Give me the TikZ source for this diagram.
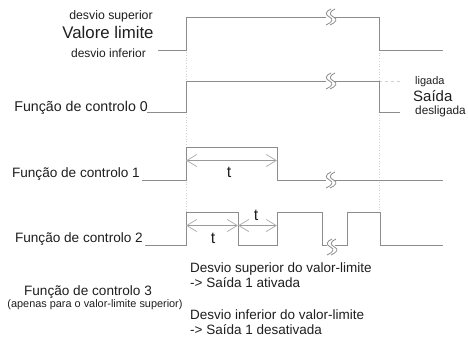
\documentclass[tikz,border=0pt]{standalone}
\usepackage{fontspec}
\setmainfont{Liberation Sans}
\usetikzlibrary{arrows.meta}
\definecolor{sigc}{HTML}{8C8C8C}
\definecolor{guidec}{HTML}{D0D0D0}
\definecolor{dimc}{HTML}{9A9A9A}
\definecolor{headc}{HTML}{B0B0B0}
\definecolor{txtc}{HTML}{1E1E1E}
\begin{document}
\begin{tikzpicture}[x=1pt,y=-1pt,
  sig/.style={draw=sigc, line width=0.95pt},
  guide/.style={draw=guidec, line width=0.7pt, dotted},
  faint/.style={draw=guidec, line width=0.7pt, dashed},
  dimline/.style={draw=dimc, line width=0.8pt,
     {Straight Barb[length=10pt,width=12pt,color=headc]}-{Straight Barb[length=10pt,width=12pt,color=headc]}},
  lbl/.style={inner sep=0pt, text=txtc},
  fs/.style={font=\fontsize{#1}{#1}\selectfont},
  brk/.pic={
    \fill[white] (-4,-6) rectangle (4,6);
    \draw[draw=sigc, line width=0.8pt] (1,-8) .. controls (-5,-5.5) and (-5,-2) .. (-0.5,0) .. controls (4,2) and (2,5.5) .. (-4,8);
    \draw[draw=sigc, line width=0.8pt] (5,-8) .. controls (-1,-5.5) and (-1,-2) .. (3.5,0) .. controls (8,2) and (6,5.5) .. (0,8);
  }]
\useasboundingbox (0,0) rectangle (468,340);

% guide lines
\draw[guide] (186,17) -- (186,245);
\draw[guide] (379,50) -- (379,211);
\draw[faint] (379,81) -- (401,81);

% labels left
\node[lbl, fs=12.3, anchor=base] (dsup) at (111,19) {desvio superior};
\node[lbl, fs=16.8, anchor=base] (vlim) at (108,38.5) {Valore limite};
\node[lbl, fs=12, anchor=base] (dinf) at (108.5,57) {desvio inferior};
\node[lbl, fs=14.2, anchor=base east] (f0) at (148,111) {Função de controlo 0};
\node[lbl, fs=13.6, anchor=base east] (f1) at (140,177) {Função de controlo 1};
\node[lbl, fs=13.6, anchor=base east] (f2) at (143,242) {Função de controlo 2};
\node[lbl, fs=13.6, anchor=base] (f3) at (88,295) {Função de controlo 3};
\node[lbl, fs=10.9, anchor=base] (f3b) at (95,307) {(apenas para o valor-limite superior)};

% labels right
\node[lbl, fs=11, anchor=base west] (lig) at (415,84) {ligada};
\node[lbl, fs=15, anchor=base west] (sai) at (413,101) {Saída};
\node[lbl, fs=11.8, anchor=base west] (desl) at (415,114) {desligada};

% bottom text
\node[lbl, fs=13.5, anchor=base west] (t1) at (190,272) {Desvio superior do valor-limite};
\node[lbl, fs=13.5, anchor=base west] (t2) at (190,287) {-> Saída 1 ativada};
\node[lbl, fs=13.5, anchor=base west] (t3) at (190,319) {Desvio inferior do valor-limite};
\node[lbl, fs=13.5, anchor=base west] (t4) at (190,334) {-> Saída 1 desativada};

% signals
\draw[sig] (158,50) -- (186,50) -- (186,17) -- (379,17) -- (379,50) -- (443,50);
\draw[sig] (147,112) -- (186,112) -- (186,81) -- (379,81) -- (379,112) -- (400,112);
\draw[sig] (142,180) -- (186,180) -- (186,147) -- (277,147) -- (277,180) -- (443,180);
\draw[sig] (145,245) -- (186,245) -- (186,212) -- (238,212) -- (238,245) -- (277,245) -- (277,212) -- (322,212) -- (322,245) -- (347,245) -- (347,212) -- (380,212) -- (380,245) -- (443,245);

% breaks
\pic at (330,17) {brk};
\pic at (330,81) {brk};
\pic at (330,180) {brk};
\pic at (331,247) {brk};

% timing dimensions
\coordinate (a1) at (186,160.5);
\coordinate (b1) at (277,160.5);
\draw[dimline] (a1) -- (b1);
\node[lbl, fs=16] (tt1) at (229,172) {t};
\coordinate (a2) at (186,225.5);
\coordinate (b2) at (238,225.5);
\coordinate (c2) at (277,225.5);
\draw[dimline] (a2) -- (b2);
\draw[dimline] (b2) -- (c2);
\node[lbl, fs=16] (tt2) at (213,238) {t};
\node[lbl, fs=16] (tt3) at (256,215) {t};
\end{tikzpicture}
\end{document}
